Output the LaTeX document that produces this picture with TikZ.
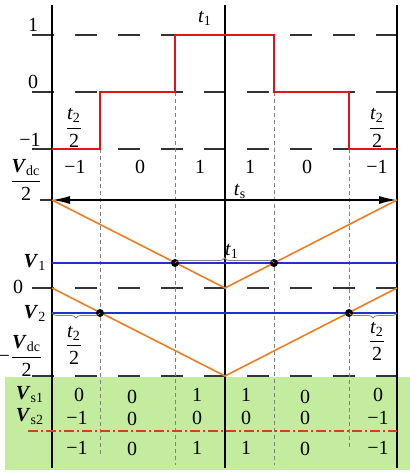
\documentclass[tikz,border=0pt]{standalone}
\usepackage{amsmath}
\usepackage{fontspec}
\setmainfont{Liberation Serif}
\usetikzlibrary{arrows.meta,decorations.pathreplacing}
\definecolor{stepred}{HTML}{E0141B}
\definecolor{triorange}{HTML}{EE7D22}
\definecolor{refblue}{HTML}{1F2FD0}
\definecolor{tablegreen}{HTML}{C3EC9E}
\definecolor{levelgray}{HTML}{333333}
\definecolor{sumred}{HTML}{D2401E}

\newcommand{\tsub}[2]{\textit{#1}\textsubscript{#2}}
\newcommand{\Vsub}[1]{\textbf{\textit{V}}\textsubscript{#1}}
\newcommand{\tfr}[2]{$\dfrac{\mbox{#1}}{\mbox{#2}}$}

\begin{document}
\begin{tikzpicture}[x=0.5pt, y=-0.5pt,
    axis/.style={line width=0.8pt, black},
    level/.style={line width=1pt, levelgray, dash pattern=on 11pt off 10.5pt},
    guide/.style={line width=0.35pt, gray, dash pattern=on 2pt off 1.5pt},
    pwm/.style={line width=1.4pt, stepred},
    carrier/.style={line width=0.8pt, triorange},
    ref/.style={line width=1pt, refblue},
    span/.style={decorate, decoration={brace, amplitude=2.5pt}, line width=0.4pt, gray},
    val/.style={font=\fontsize{10}{12}\selectfont, inner sep=0pt},
    dot/.style={circle, fill=black, inner sep=0pt, minimum size=4pt}
]
\useasboundingbox (0,0) rectangle (410,474);

% --- table background ---
\fill[tablegreen] (5,377) rectangle (410,470);

% --- levels ---
\draw[level] (32,35)  -- (405,35);
\draw[level] (32,92)  -- (405,92);
\draw[level] (32,149) -- (405,149);
\draw[level] (40,200) -- (52,200);
\draw[level] (32,288) -- (405,288);
\draw[level] (32,376) -- (405,376);

% --- switching instants ---
\draw[guide] (100,149) -- (100,455);
\draw[guide] (175,92)  -- (175,465);
\draw[guide] (274,92)  -- (274,465);
\draw[guide] (349,149) -- (349,448);

% --- axes ---
\draw[axis] (52,5)  -- (52,468);
\draw[axis] (225,5) -- (225,468);
\draw[axis] (397,5) -- (397,468);

% --- output level ---
\draw[pwm] (52,149) -- (100,149) -- (100,92) -- (175,92) -- (175,35)
    -- (274,35) -- (274,92) -- (349,92) -- (349,149) -- (397,149);

% --- period ---
\draw[axis, {Latex[length=9pt,width=4pt]}-{Latex[length=9pt,width=4pt]}] (52,200) -- (397,200);

% --- carriers and references ---
\draw[carrier] (52,200) -- (225,288) -- (397,200);
\draw[carrier] (52,288) -- (225,376) -- (397,288);
\draw[ref] (52,263) -- (397,263);
\draw[ref] (52,313) -- (397,313);

\node[dot] (c1) at (175,263) {};
\node[dot] (c2) at (274,263) {};
\node[dot] (c3) at (100,313) {};
\node[dot] (c4) at (349,313) {};
\coordinate (lf) at (52,313);
\coordinate (rt) at (397,313);

\draw[span] (c1.center) -- (c2.center);
\draw[span] (c3.center) -- (lf);
\draw[span] (rt) -- (c4.center);

% --- red dash-dot ---
\draw[line width=0.7pt, sumred, dash pattern=on 5pt off 1.5pt on 1pt off 1.5pt] (28,431) -- (397,431);

% --- labels ---
\node[val] at (33,25)  {1};
\node[val] at (33,82)  {0};
\node[val] at (30,140) {−1};
\node[val] at (205,18) {\tsub{t}{1}};
\node[val] at (74,128)  {\tfr{\tsub{t}{2}}{2}};
\node[val] at (377,128) {\tfr{\tsub{t}{2}}{2}};

\node[val] at (75,167)  {−1};
\node[val] at (140,167) {0};
\node[val] at (200,167) {1};
\node[val] at (250,167) {1};
\node[val] at (307,167) {0};
\node[val] at (377,167) {−1};

\node[val] at (26,180) {\tfr{\Vsub{dc}}{2}};
\node[val] at (240,191) {\tsub{t}{s}};

\node[val] at (35,262) {\Vsub{1}};
\node[val] at (18,287) {0};
\node[val] at (35,313) {\Vsub{2}};
\node[val] at (232,251) {\tsub{t}{1}};
\node[val] at (74,345)  {\tfr{\tsub{t}{2}}{2}};
\node[val] at (377,341) {\tfr{\tsub{t}{2}}{2}};
\node[val] at (21,356) {−\tfr{\Vsub{dc}}{2}};

% --- table ---
\node[val] at (30,395) {\Vsub{s1}};
\node[val] at (30,417) {\Vsub{s2}};

\node[val] at (79,395)  {0};
\node[val] at (132,397) {0};
\node[val] at (197,395) {1};
\node[val] at (246,395) {1};
\node[val] at (305,397) {0};
\node[val] at (378,395) {0};

\node[val] at (77,418)  {−1};
\node[val] at (132,419) {0};
\node[val] at (197,418) {0};
\node[val] at (246,418) {0};
\node[val] at (305,418) {0};
\node[val] at (378,418) {−1};

\node[val] at (77,448)  {−1};
\node[val] at (132,449) {0};
\node[val] at (197,448) {1};
\node[val] at (246,448) {1};
\node[val] at (305,449) {0};
\node[val] at (378,448) {−1};

\end{tikzpicture}
\end{document}
